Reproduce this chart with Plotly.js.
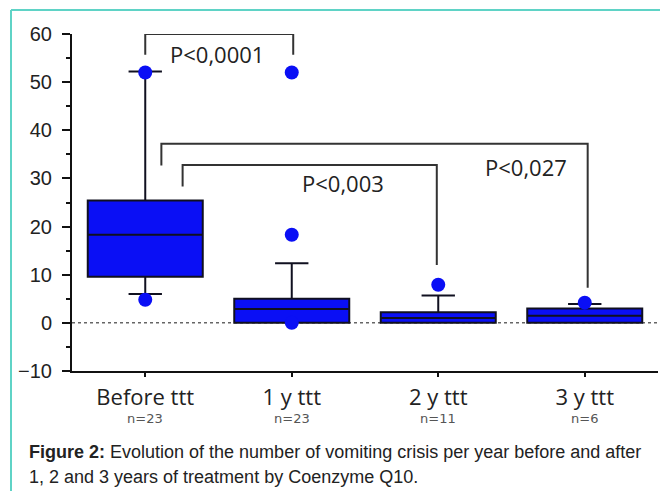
<!DOCTYPE html>
<html>
<head>
<meta charset="utf-8">
<script src="https://cdn.plot.ly/plotly-3.0.1.min.js"></script>
<style>html,body{margin:0;padding:0;background:#fff;}#chart{width:660px;height:491px;}</style>
</head>
<body>
<div id="chart"></div>
<script>
// ---- data ----
const categories = ["Before ttt", "1 y ttt", "2 y ttt", "3 y ttt"];
const sampleSizes = ["n=23", "n=23", "n=11", "n=6"];
const q1 = [9.6, 0, 0, 0];
const medians = [18.3, 2.9, 1.0, 1.5];
const q3 = [25.4, 5.0, 2.2, 3.0];
const lowerWhisker = [6.0, 0, 0, 0];
const upperWhisker = [52.2, 12.4, 5.7, 3.9];
const outlierCat = ["Before ttt", "Before ttt", "1 y ttt", "1 y ttt", "1 y ttt", "2 y ttt", "3 y ttt"];
const outlierVal = [52, 4.8, 52, 18.3, 0, 7.9, 4.2];
// significance brackets: [left x, right x, top y, left leg end, right leg end]
const bracketLabels = ["P<0,0001", "P<0,027", "P<0,003"];
const bracketLeftX = [0, 0.11, 0.255];
const bracketRightX = [1.01, 3.02, 1.99];
const bracketTopY = [60, 37.2, 32.8];
const bracketLeftEnd = [55.7, 32.7, 28.3];
const bracketRightEnd = [55.7, 7.3, 12.0];
const bracketLabelX = [0.49, 2.6, 1.35];
const bracketLabelY = [55.9, 32.4, 29.0];
const captionBold = "Figure 2:";
const captionLine1 = " Evolution of the number of vomiting crisis per year before and after";
const captionLine2 = "1, 2 and 3 years of treatment by Coenzyme Q10.";

const boxTrace = {
  type: "box",
  x: categories,
  q1: q1, median: medians, q3: q3,
  lowerfence: lowerWhisker, upperfence: upperWhisker,
  boxpoints: false,
  width: 0.785,
  whiskerwidth: 0.29,
  fillcolor: "#0a0ff5",
  line: {color: "#101020", width: 2},
  hoverinfo: "skip",
  showlegend: false
};
const ptsTrace = {
  type: "scatter", mode: "markers",
  x: outlierCat, y: outlierVal,
  marker: {color: "#0a0ff5", size: 14},
  showlegend: false, hoverinfo: "skip"
};

const shapes = [];
// dotted zero line
shapes.push({type: "line", xref: "paper", yref: "y", x0: 0, x1: 1, y0: 0, y1: 0, layer: "below",
  line: {color: "#666", width: 1.5, dash: "dot"}});
for (let i = 0; i < bracketLabels.length; i++) {
  const ln = {color: "#333", width: 2};
  shapes.push({type: "path", xref: "x", yref: "y",
    path: `M ${bracketLeftX[i]},${bracketLeftEnd[i]} L ${bracketLeftX[i]},${bracketTopY[i]} L ${bracketRightX[i]},${bracketTopY[i]} L ${bracketRightX[i]},${bracketRightEnd[i]}`,
    line: ln});
}
// teal frame
shapes.push({type: "line", xref: "paper", yref: "paper", x0: -0.1041, x1: 1.1, y0: 1.0712, y1: 1.0712, line: {color: "#5fd3c6", width: 2}});
shapes.push({type: "line", xref: "paper", yref: "paper", x0: -0.1041, x1: -0.1041, y0: 1.0712, y1: -0.4, line: {color: "#5fd3c6", width: 2}});

const annotations = [];
for (let i = 0; i < bracketLabels.length; i++) {
  annotations.push({x: bracketLabelX[i], y: bracketLabelY[i], xref: "x", yref: "y", text: bracketLabels[i],
    showarrow: false, font: {family: "Open Sans", size: 22, color: "#222"}});
}
for (let i = 0; i < categories.length; i++) {
  annotations.push({x: i, y: -0.141, xref: "x", yref: "paper", text: sampleSizes[i], showarrow: false,
    xanchor: "center", yanchor: "middle", font: {family: "DejaVu Sans", size: 13, color: "#555"}});
}
annotations.push({x: -0.0768, y: -0.239, xref: "paper", yref: "paper", xanchor: "left", yanchor: "middle",
  text: "<b>" + captionBold + "</b>" + captionLine1, showarrow: false, align: "left",
  font: {family: "Liberation Sans, Arial", size: 18, color: "#222"}});
annotations.push({x: -0.0768, y: -0.3145, xref: "paper", yref: "paper", xanchor: "left", yanchor: "middle",
  text: captionLine2, showarrow: false, align: "left",
  font: {family: "Liberation Sans, Arial", size: 18, color: "#222"}});

const layout = {
  width: 660, height: 491,
  margin: {l: 72, r: 2, t: 34, b: 120},
  paper_bgcolor: "#fff", plot_bgcolor: "#fff",
  xaxis: {
    type: "category", range: [-0.5, 3.5], showgrid: false, zeroline: false,
    showline: true, linecolor: "#111", linewidth: 2,
    ticks: "outside", ticklen: 4, tickwidth: 2, tickcolor: "#111",
    ticklabelstandoff: 2,
    tickfont: {family: "Open Sans", size: 22, color: "#222"}
  },
  yaxis: {
    range: [-10, 60], dtick: 10, showgrid: false, zeroline: false,
    showline: true, linecolor: "#111", linewidth: 2,
    ticks: "outside", ticklen: 8, tickwidth: 2, tickcolor: "#111",
    ticklabelstandoff: 6,
    minor: {dtick: 5, ticks: "outside", ticklen: 4, tickwidth: 2, tickcolor: "#111"},
    tickfont: {family: "Liberation Sans, Arial", size: 20, color: "#222"}
  },
  shapes: shapes,
  annotations: annotations
};
Plotly.newPlot("chart", [boxTrace, ptsTrace], layout, {displayModeBar: false, staticPlot: true});
</script>
</body>
</html>
